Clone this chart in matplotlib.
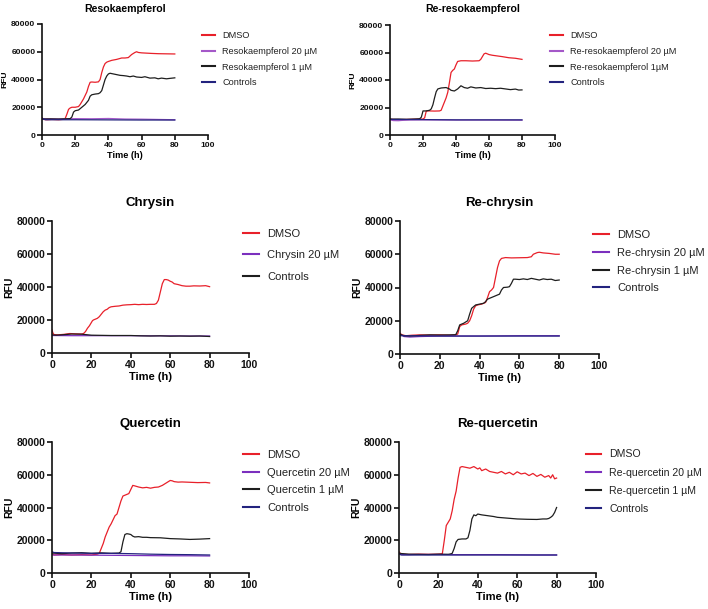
import matplotlib
matplotlib.use("Agg")
import matplotlib.pyplot as plt

plt.rcParams['font.family'] = ['Liberation Sans', 'DejaVu Sans']

RED = '#E8202A'
PURPLE_LIGHT = '#A458C8'
PURPLE = '#7B2FBE'
BLACK = '#1E1E1E'
NAVY = '#23237E'

# ---- Resokaempferol ----
reso_dmso_t = [0, 1, 3, 6, 10, 13, 14, 15, 16, 17, 18, 20, 22, 23, 25, 27, 28, 29, 30, 32, 34, 35, 36, 37, 38, 39, 40, 42, 45, 48, 50, 52, 54, 56, 57, 58, 60, 63, 66, 70, 75, 80]
reso_dmso_y = [12500, 11200, 11000, 11200, 11000, 11300, 12000, 15000, 18500, 19500, 20000, 20000, 20500, 22000, 26000, 31000, 35000, 38000, 38200, 38000, 38300, 40000, 45000, 49000, 51500, 52500, 53000, 53800, 54500, 55500, 55500, 55800, 58000, 59500, 60000, 59500, 59200, 59000, 58800, 58600, 58500, 58400]
reso_1_t = [0, 5, 10, 15, 17, 18, 19, 20, 22, 24, 26, 28, 29, 30, 32, 34, 35, 36, 37, 38, 39, 40, 41, 43, 45, 47, 49, 51, 53, 55, 57, 60, 62, 65, 68, 70, 72, 75, 77, 80]
reso_1_y = [11500, 11600, 11500, 11700, 11800, 13000, 16500, 17500, 18000, 20000, 22000, 25000, 28000, 29000, 29500, 29800, 30500, 32000, 36000, 40000, 42500, 44000, 44500, 44000, 43500, 43000, 42800, 42500, 42000, 42500, 41800, 41500, 42000, 41000, 41200, 40500, 41000, 40500, 40800, 41200]
reso_20_t = [0, 10, 20, 30, 40, 50, 60, 70, 80]
reso_20_y = [11800, 11600, 11800, 11700, 11900, 11500, 11400, 11200, 11000]
reso_ctrl_t = [0, 2, 10, 20, 40, 60, 80]
reso_ctrl_y = [12000, 11000, 11000, 11000, 10900, 10800, 10800]

# ---- Re-resokaempferol ----
rereso_dmso_t = [0, 2, 5, 10, 15, 20, 21, 22, 24, 27, 30, 31, 32, 33, 34, 35, 36, 37, 38, 39, 40, 41, 43, 46, 50, 54, 55, 56, 57, 58, 60, 62, 65, 68, 72, 76, 80]
rereso_dmso_y = [11500, 11300, 11200, 11300, 11500, 11600, 12500, 17500, 17500, 17400, 17500, 18000, 21000, 24000, 27000, 31000, 38000, 45500, 47000, 48000, 51000, 53500, 54000, 54000, 53800, 54000, 55000, 57000, 59000, 59500, 58500, 58000, 57500, 57000, 56200, 55800, 55000]
rereso_1_t = [0, 5, 10, 15, 18, 19, 20, 22, 24, 25, 26, 27, 28, 29, 31, 34, 36, 37, 39, 41, 43, 45, 47, 49, 52, 55, 58, 61, 64, 67, 70, 73, 76, 78, 80]
rereso_1_y = [11500, 11600, 11400, 11600, 11800, 13000, 17500, 17500, 18000, 19000, 22000, 27000, 31500, 33500, 34200, 34500, 33500, 32500, 32000, 33500, 35800, 34500, 34000, 35000, 34200, 34500, 33800, 34000, 33700, 34000, 33500, 33000, 33400, 32700, 32800]
rereso_20_t = [0, 2, 5, 8, 12, 20, 40, 60, 80]
rereso_20_y = [11000, 10500, 10400, 10700, 10900, 11000, 10900, 10900, 10800]
rereso_ctrl_t = [0, 1, 20, 40, 60, 80]
rereso_ctrl_y = [11800, 11300, 11200, 11000, 11000, 11000]

# ---- Chrysin ----
chry_dmso_t = [0, 0.5, 1, 3, 6, 9, 12, 15, 16, 17, 18, 19, 20, 20.5, 21, 23, 24, 25, 26, 27, 28, 29, 30, 32, 34, 36, 38, 40, 42, 44, 46, 48, 50, 52, 53, 54, 55, 56, 57, 58, 59, 60, 61, 62, 64, 66, 68, 70, 72, 75, 78, 80]
chry_dmso_y = [14000, 12000, 11200, 11000, 11300, 11800, 11600, 11500, 11800, 13000, 15000, 16500, 18500, 19500, 20000, 21000, 22000, 23500, 25000, 26000, 26500, 27500, 28000, 28300, 28500, 29000, 29200, 29300, 29500, 29300, 29500, 29400, 29500, 29500, 30000, 32000, 37000, 42000, 44500, 44500, 44200, 43500, 43000, 42000, 41500, 40800, 40500, 40500, 40700, 40600, 40800, 40200]
chry_20_t = [0, 10, 20, 30, 40, 50, 60, 70, 80]
chry_20_y = [10600, 10500, 10500, 10500, 10500, 10400, 10400, 10300, 10300]
chry_ctrl_t = [0, 2, 5, 10, 15, 20, 30, 40, 45, 50, 55, 60, 65, 70, 75, 80]
chry_ctrl_y = [11000, 10800, 11000, 11500, 11400, 10800, 10600, 10600, 10400, 10300, 10400, 10200, 10300, 10200, 10300, 10000]

# ---- Re-chrysin ----
rechry_dmso_t = [0, 1, 3, 6, 10, 15, 20, 25, 28, 29, 30, 31, 33, 34, 35, 36, 37, 38, 39, 41, 43, 44, 45, 46, 47, 48, 49, 50, 51, 53, 56, 60, 64, 66, 67, 68, 69, 70, 72, 75, 78, 80]
rechry_dmso_y = [12500, 11500, 11000, 11300, 11500, 11400, 11500, 11300, 11500, 12000, 16500, 17500, 18000, 18500, 20000, 23000, 27000, 29000, 29500, 30000, 31000, 34000, 37500, 38500, 40000, 46000, 52000, 56000, 57500, 58000, 57800, 57900, 58000, 58500, 60000, 60500, 61000, 61200, 60800, 60500, 60000, 60000]
rechry_1_t = [0, 2, 5, 10, 15, 20, 25, 28, 29, 30, 32, 34, 35, 36, 37, 38, 40, 42, 43, 44, 46, 48, 50, 51, 52, 54, 55, 56, 57, 58, 60, 62, 64, 66, 68, 70, 72, 74, 76, 78, 80]
rechry_1_y = [11800, 11000, 10800, 11200, 11500, 11400, 11500, 11600, 14000, 17500, 18500, 20000, 24000, 27500, 28500, 29500, 30000, 30500, 31500, 33000, 34000, 35000, 36000, 38500, 40000, 40200, 40500, 42500, 45000, 45000, 44800, 45200, 44800, 45500, 45000, 44500, 45200, 44800, 45000, 44200, 44500]
rechry_20_t = [0, 2, 5, 10, 20, 30, 40, 50, 60, 70, 80]
rechry_20_y = [12000, 10500, 10200, 10500, 10800, 10800, 10800, 10900, 11000, 11000, 11000]
rechry_ctrl_t = [0, 20, 40, 60, 80]
rechry_ctrl_y = [11000, 10800, 10800, 10800, 10800]

# ---- Quercetin ----
quer_dmso_t = [0, 1, 5, 10, 15, 20, 23, 24, 25, 26, 27, 28, 29, 30, 31, 32, 33, 34, 35, 36, 37, 38, 39, 40, 41, 42, 44, 46, 48, 50, 52, 54, 56, 58, 60, 61, 62, 64, 66, 70, 74, 78, 80]
quer_dmso_y = [12000, 11000, 11300, 11000, 11200, 11000, 11500, 12000, 15000, 18000, 22000, 25000, 28000, 30000, 32500, 35000, 36000, 40000, 44000, 47000, 47500, 48000, 48500, 51000, 53500, 53200, 52500, 52000, 52300, 51800, 52300, 52500, 53500, 55000, 56500, 56300, 55800, 55500, 55600, 55400, 55200, 55300, 55000]
quer_1_t = [0, 5, 10, 15, 20, 25, 30, 34, 35, 36, 37, 38, 39, 40, 41, 42, 44, 46, 48, 50, 55, 60, 65, 70, 75, 80]
quer_1_y = [12200, 11800, 12200, 12400, 12000, 12300, 12000, 12200, 13000, 19000, 23500, 24000, 23800, 23500, 22500, 22000, 22200, 21800, 21800, 21600, 21500, 21000, 20800, 20500, 20700, 21000]
quer_20_t = [0, 10, 20, 30, 40, 50, 60, 70, 80]
quer_20_y = [11000, 11000, 10900, 10800, 10700, 10600, 10500, 10500, 10400]
quer_ctrl_t = [0, 1, 10, 20, 30, 40, 50, 60, 70, 80]
quer_ctrl_y = [13000, 12500, 12200, 12000, 12000, 11800, 11500, 11300, 11200, 11000]

# ---- Re-quercetin ----
requer_dmso_t = [0, 1, 5, 10, 15, 20, 22, 23, 24, 25, 26, 27, 28, 29, 30, 31, 32, 34, 36, 38, 40, 41, 42, 44, 46, 48, 50, 52, 54, 56, 58, 60, 62, 64, 66, 68, 70, 72, 74, 76, 77, 78, 79, 80]
requer_dmso_y = [13000, 11500, 11300, 11500, 11400, 11500, 11800, 20000, 29000, 31000, 33000, 38000, 45000, 50000, 58000, 64500, 65000, 64500, 64000, 65000, 63500, 64200, 62500, 63500, 62000, 61500, 61000, 62000, 60500, 61500, 60000, 61800, 60500, 61000, 59500, 60800, 59000, 60200, 58500, 59500, 58000, 60000, 57500, 58000]
requer_1_t = [0, 5, 10, 15, 20, 25, 26, 27, 28, 29, 30, 32, 34, 35, 36, 37, 38, 39, 40, 42, 45, 48, 50, 55, 60, 65, 70, 73, 75, 76, 77, 78, 79, 80]
requer_1_y = [12000, 11500, 11400, 11300, 11500, 11400, 11600, 12000, 15000, 19000, 20500, 20800, 20800, 21500, 26000, 33000, 35500, 35000, 36000, 35500, 35000, 34500, 34000, 33500, 33000, 32800, 32700, 33000, 33000, 33300, 34000, 35000, 37000, 40000]
requer_20_t = [0, 2, 10, 20, 30, 40, 50, 60, 70, 80]
requer_20_y = [11500, 11200, 11300, 11300, 11200, 11200, 11200, 11100, 11000, 11000]
requer_ctrl_t = [0, 1, 10, 20, 40, 60, 80]
requer_ctrl_y = [12000, 11000, 11000, 11000, 11000, 11000, 11000]


fig = plt.figure(figsize=(7.08, 6.09), dpi=100)
W, H = 708, 609


def panel(box, title, series, fs, title_fs, title_pad, leg_x, leg_y, leg_space, lfs=None):
    # box = left, top, right, bottom in pixels
    l, t, r, b = box
    ax = fig.add_axes([l / W, 1 - b / H, (r - l) / W, (b - t) / H])
    for tt, yy, color, label in series:
        ax.plot(tt, yy, color=color, lw=0.9, label=label)
    ax.set_xlim(0, 100)
    ax.set_ylim(0, 80000)
    ax.set_xticks([0, 20, 40, 60, 80, 100])
    ax.set_yticks([0, 20000, 40000, 60000, 80000])
    for s in ['top', 'right']:
        ax.spines[s].set_visible(False)
    for s in ['left', 'bottom']:
        ax.spines[s].set_linewidth(1.2)
        ax.spines[s].set_color('#111111')
    ax.tick_params(width=1.2, length=3.5, labelsize=fs, pad=1.2, colors='#111111')
    for lab in ax.get_xticklabels() + ax.get_yticklabels():
        lab.set_fontweight('bold')
    ax.set_xlabel('Time (h)', fontsize=fs + 0.5, fontweight='bold', labelpad=2)
    ax.set_ylabel('RFU', fontsize=fs, fontweight='bold', labelpad=2)
    ax.set_title(title, fontsize=title_fs, fontweight='bold', pad=title_pad)
    if lfs is None:
        lfs = fs + 0.5
    fs_px = lfs * 100 / 72
    leg = ax.legend(loc='upper left', frameon=False, fontsize=lfs,
                    bbox_to_anchor=(leg_x / W, 1 - (leg_y - 0.62 * fs_px) / H),
                    bbox_transform=fig.transFigure, borderaxespad=0, borderpad=0,
                    handlelength=1.4, handletextpad=0.8,
                    labelspacing=(leg_space - 1.15 * fs_px) / fs_px)
    for line in leg.get_lines():
        line.set_linewidth(1.5)
    for txt in leg.get_texts():
        txt.set_color('#222222')
    return ax


panel((42, 24, 208, 135), 'Resokaempferol', [
    (reso_dmso_t, reso_dmso_y, RED, 'DMSO'),
    (reso_20_t, reso_20_y, PURPLE_LIGHT, 'Resokaempferol 20 µM'),
    (reso_1_t, reso_1_y, BLACK, 'Resokaempferol 1 µM'),
    (reso_ctrl_t, reso_ctrl_y, NAVY, 'Controls'),
], 6.1, 7.6, 9, 202, 37, 17.2)

panel((390, 25, 555, 135), 'Re-resokaempferol', [
    (rereso_dmso_t, rereso_dmso_y, RED, 'DMSO'),
    (rereso_20_t, rereso_20_y, PURPLE_LIGHT, 'Re-resokaempferol 20 µM'),
    (rereso_1_t, rereso_1_y, BLACK, 'Re-resokaempferol 1µM'),
    (rereso_ctrl_t, rereso_ctrl_y, NAVY, 'Controls'),
], 6.1, 7.6, 9, 550, 37, 17.2)

panel((52, 221, 249, 353), 'Chrysin', [
    (chry_dmso_t, chry_dmso_y, RED, 'DMSO'),
    (chry_20_t, chry_20_y, PURPLE, 'Chrysin 20 µM'),
    (chry_ctrl_t, chry_ctrl_y, BLACK, 'Controls'),
], 7.5, 9.5, 11, 243, 236, 24)

panel((400, 221, 599, 354), 'Re-chrysin', [
    (rechry_dmso_t, rechry_dmso_y, RED, 'DMSO'),
    (rechry_20_t, rechry_20_y, PURPLE, 'Re-chrysin 20 µM'),
    (rechry_1_t, rechry_1_y, BLACK, 'Re-chrysin 1 µM'),
    (rechry_ctrl_t, rechry_ctrl_y, NAVY, 'Controls'),
], 7.5, 9.5, 11, 593, 237, 20.5)

panel((52, 442, 249, 573), 'Quercetin', [
    (quer_dmso_t, quer_dmso_y, RED, 'DMSO'),
    (quer_20_t, quer_20_y, PURPLE, 'Quercetin 20 µM'),
    (quer_1_t, quer_1_y, BLACK, 'Quercetin 1 µM'),
    (quer_ctrl_t, quer_ctrl_y, NAVY, 'Controls'),
], 7.5, 9.5, 11, 243, 457, 20.3)

panel((399, 442, 596, 573), 'Re-quercetin', [
    (requer_dmso_t, requer_dmso_y, RED, 'DMSO'),
    (requer_20_t, requer_20_y, PURPLE, 'Re-quercetin 20 µM'),
    (requer_1_t, requer_1_y, BLACK, 'Re-quercetin 1 µM'),
    (requer_ctrl_t, requer_ctrl_y, NAVY, 'Controls'),
], 7.5, 9.5, 11, 586, 456, 20.3, lfs=7.6)

fig.savefig('out.png', dpi=100)
